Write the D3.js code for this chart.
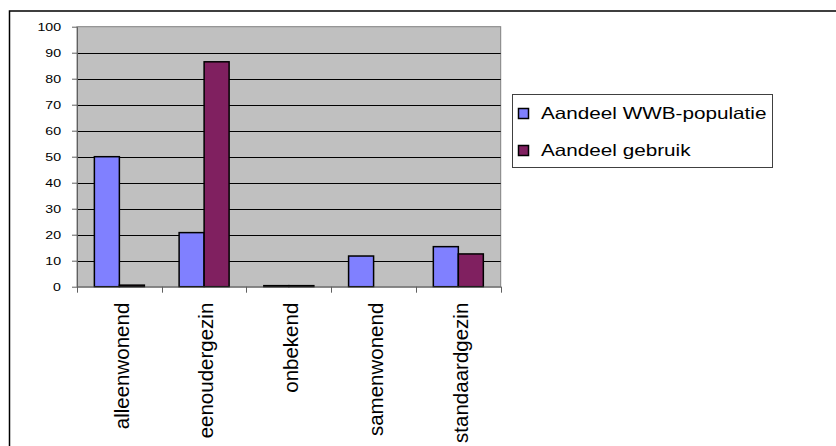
<!DOCTYPE html>
<html>
<head>
<meta charset="utf-8">
<script src="https://cdn.jsdelivr.net/npm/d3@7"></script>
<style>
  html, body { margin: 0; padding: 0; background: #fff; }
  svg { display: block; }
  text { font-family: "Liberation Sans", Arial, sans-serif; fill: #000; }
</style>
</head>
<body>
<svg id="chart" width="836" height="446"></svg>
<script>
const categories = ["alleenwonend", "eenoudergezin", "onbekend", "samenwonend", "standaardgezin"];
const seriesNames = ["Aandeel WWB-populatie", "Aandeel gebruik"];
const wwbPopulatie = [50, 20.8, 0.4, 11.8, 15.4];
const gebruik = [0.6, 86.5, 0.4, 0, 12.6];
const yTicks = [0, 10, 20, 30, 40, 50, 60, 70, 80, 90, 100];
const colors = ["#8080FF", "#802060"];

const seriesValues = [wwbPopulatie, gebruik];
const svg = d3.select("#chart");

// outer chart border
svg.append("rect")
  .attr("x", 9.5).attr("y", 11)
  .attr("width", 900).attr("height", 600)
  .attr("fill", "#fff").attr("stroke", "#000").attr("stroke-width", 1.5);

const plot = { left: 77, right: 500.7, top: 26.7, bottom: 286.7 };

const x = d3.scaleBand().domain(categories).range([plot.left, plot.right]).padding(0);
const groupW = x.bandwidth() * 0.59;
const x1 = d3.scaleBand().domain(seriesNames).range([0, groupW]).padding(0);
const y = d3.scaleLinear().domain([0, 100]).range([plot.bottom, plot.top]);

// plot background
svg.append("rect")
  .attr("x", plot.left).attr("y", plot.top)
  .attr("width", plot.right - plot.left).attr("height", plot.bottom - plot.top)
  .attr("fill", "#C0C0C0").attr("stroke", "#808080").attr("stroke-width", 1);

// gridlines
svg.append("g").selectAll("line")
  .data(yTicks.filter(t => t > 0 && t < 100))
  .join("line")
  .attr("x1", plot.left).attr("x2", plot.right)
  .attr("y1", d => Math.round(y(d)) + 0.5).attr("y2", d => Math.round(y(d)) + 0.5)
  .attr("stroke", "#000").attr("stroke-width", 1);

// bars
const groups = svg.append("g").selectAll("g")
  .data(categories)
  .join("g")
  .attr("transform", d => `translate(${x(d) + (x.bandwidth() - groupW) / 2},0)`);

groups.selectAll("rect")
  .data((d, i) => seriesNames.map((s, k) => ({ s, k, v: seriesValues[k][i] })))
  .join("rect")
  .filter(d => d.v > 0)
  .attr("x", d => x1(d.s))
  .attr("y", d => y(d.v))
  .attr("width", x1.bandwidth())
  .attr("height", d => y(0) - y(d.v))
  .attr("fill", d => colors[d.k])
  .attr("stroke", "#000").attr("stroke-width", 1.5);

// y axis
const yAxis = d3.axisLeft(y).tickValues(yTicks).tickSize(5).tickPadding(10).tickSizeOuter(0);
const gy = svg.append("g").attr("transform", `translate(${plot.left},0)`).call(yAxis);
gy.select(".domain").attr("stroke", "#606060");
gy.selectAll(".tick line").attr("stroke", "#606060");
gy.selectAll(".tick text")
  .style("font-family", "'Liberation Sans', Arial, sans-serif")
  .style("font-size", "11.8px")
  .attr("fill", "#000")
  .attr("x", 0)
  .attr("transform", "translate(-16,0) scale(1.2,1)");

// x axis
const xAxis = d3.axisBottom(x).tickSize(0).tickSizeOuter(0);
const gx = svg.append("g").attr("transform", `translate(0,${plot.bottom})`).call(xAxis);
gx.select(".domain").attr("stroke", "#606060");
gx.selectAll(".tick text")
  .style("font-family", "'Liberation Sans', Arial, sans-serif")
  .style("font-size", "20.5px")
  .attr("fill", "#000")
  .attr("text-anchor", "end")
  .attr("transform", "rotate(-90)")
  .attr("x", -16).attr("y", 2).attr("dy", "0.35em");

// category boundary ticks
svg.append("g").selectAll("line")
  .data(categories.concat(["__end"]))
  .join("line")
  .attr("x1", (d, i) => Math.round(plot.left + i * x.bandwidth()) + 0.5)
  .attr("x2", (d, i) => Math.round(plot.left + i * x.bandwidth()) + 0.5)
  .attr("y1", plot.bottom).attr("y2", plot.bottom + 6)
  .attr("stroke", "#606060").attr("stroke-width", 1);

// legend
const legend = svg.append("g");
legend.append("rect")
  .attr("x", 512.5).attr("y", 94.5).attr("width", 260).attr("height", 73)
  .attr("fill", "#fff").attr("stroke", "#404040").attr("stroke-width", 1);
const items = legend.selectAll("g.item")
  .data(seriesNames)
  .join("g").attr("class", "item")
  .attr("transform", (d, i) => `translate(0,${113.5 + i * 37})`);
items.append("rect")
  .attr("x", 518.5).attr("y", -5).attr("width", 10).attr("height", 10)
  .attr("fill", (d, i) => colors[i]).attr("stroke", "#000").attr("stroke-width", 1.5);
items.append("text")
  .attr("transform", "translate(541,0) scale(1.27,1)")
  .attr("x", 0).attr("y", 0).attr("dy", "0.36em")
  .style("font-size", "16.3px")
  .text(d => d);
</script>
</body>
</html>
